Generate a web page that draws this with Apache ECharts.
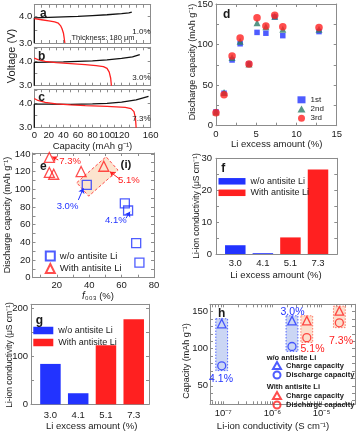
<!DOCTYPE html>
<html><head><meta charset="utf-8">
<script src="https://cdn.jsdelivr.net/npm/echarts@6/dist/echarts.min.js"></script>
<style>html,body{margin:0;padding:0;background:#fff}#c{width:358px;height:435px}</style>
</head><body><div id="c"></div>
<script>
// ================= DATA =================
// a-c : voltage profiles, [capacity (mAh/g), voltage (V)]
const chargeA    = [[0,3.0],[0,3.95],[10,3.96],[20,3.97],[40,3.99],[60,4.01],[80,4.04],[100,4.07],[120,4.11],[130,4.14],[134,4.17]];
const dischargeA = [[0,3.92],[10,3.88],[20,3.84],[28,3.8],[33,3.75],[36,3.66],[38,3.55],[40,3.38],[41,3.2],[42,3.0]];
const chargeB    = [[0,3.0],[0,3.94],[20,3.95],[40,3.96],[60,3.98],[80,4.0],[100,4.04],[120,4.1],[135,4.16],[145,4.25]];
const dischargeB = [[0,4.11],[5,4.05],[15,3.98],[30,3.93],[50,3.89],[70,3.85],[85,3.81],[95,3.77],[100,3.7],[103,3.55],[105,3.3],[106,3.0]];
const chargeC    = [[0,3.0],[0,3.95],[20,3.95],[50,3.94],[80,3.96],[100,3.98],[120,4.03],[140,4.12],[157,4.26]];
const dischargeC = [[0,4.18],[5,4.1],[15,4.02],[30,3.96],[50,3.92],[70,3.89],[100,3.86],[125,3.82],[133,3.77],[137,3.65],[139,3.4],[140,3.0]];
const profileLabels = ['1.0%','3.0%','7.3%'];
const capTickLabels = [0,20,40,60,80,100,120,140,160];

// d : discharge capacity vs Li excess
const liExcess = [0,1,2,3,4.1,5.1,6.2,7.3,8.3,12.8];
const cap1st   = [17,40,81,101,76,115,114,134,111,116];
const cap2nd   = [17,41,84,104,76,127,122,135,119,119];
const cap3rd   = [16,38,86,108,76,133,123,136,122,121];
const cycleNames = ['1st','2nd','3rd'];

// e : discharge capacity vs f003
const f003Without = [38.5,62,64,69,71];
const capWithout  = [105,84,76,39,17];
const f003With    = [15.4,15.4,18.1,35,49];
const capWith     = [136,119,117,120,126];
const eBox = [[32.3,107.4],[50.4,136.8],[57.8,121.6],[39.7,92.2]];   // dashed region (i)
const eArrowsRed  = [[[20.9,133.1],[17.2,136.8]],[[59,111.3],[52.8,119.9]]];
const eArrowsBlue = [[[33.3,87.9],[36.4,101.1]],[[62.7,67.2],[65.2,74.6]]];

// f, g : Li-ion conductivity bars
const barCats = ['3.0','4.1','5.1','7.3'];
const condF = [2.75,0.25,5.2,26.5];
const condG = [84,23,123,177];

// h : capacity vs conductivity
const hLabels    = ['4.1%','3.0%','5.1%','7.3%'];
const hCond      = [9.3e-8,2.5e-6,5.0e-6,2.3e-5];   // S/cm
const hCharge    = [134,138,138,151];
const hDischarge = [77,103,115,135];
const hYTickLabels = [50,100,150];

// ================= STYLE / LAYOUT =================
const FONT = '"Liberation Sans", Arial, Helvetica, sans-serif';
const AXC = '#8c8c8c', TC = '#1a1a1a';
const BLUE = '#2233ff', RED = '#ff2020', GREEN = '#2c7c68', BLACK = '#111111';

const G = {
  a:{left:34.3, top:4.7,  width:116.4, height:38.3},
  b:{left:34.3, top:47.3, width:116.4, height:38.4},
  c:{left:34.3, top:89.3, width:116.4, height:38.4},
  d:{left:216,  top:4,    width:120.7, height:121.7},
  e:{left:32.5, top:153,  width:121.5, height:124.7},
  f:{left:216,  top:158.3,width:121.3, height:95.7},
  g:{left:31,   top:304.3,width:118,   height:100},
  h:{left:210,  top:304.3,width:145,   height:100}
};

const grids=[], xAxis=[], yAxis=[], series=[], legend=[], graphic=[];
function range(a,b,s){const r=[];for(let v=a;v<=b+1e-9;v+=s)r.push(+v.toFixed(6));return r;}

function axis(gi,pos,o,showLabel){
  const hasTicks = Array.isArray(o.ticks);
  return {
    type:'value', gridIndex:gi, position:pos, min:o.min, max:o.max,
    axisLine:{show:true,onZero:false,lineStyle:{color:AXC,width:1}},
    axisTick:hasTicks?{show:true,inside:true,length:3,lineStyle:{color:AXC,width:1},customValues:o.ticks}:{show:false},
    axisLabel:{show:!!(showLabel&&o.labels), customValues:o.labels||undefined, formatter:o.fmt,
      margin:(o.margin!==undefined?o.margin:3), fontSize:o.fs||9.5, color:TC, fontFamily:FONT,
      hideOverlap:false, showMinLabel:true, showMaxLabel:true},
    splitLine:{show:false}, splitArea:{show:false}
  };
}
function panel(rect,xo,yo,showX){
  const gi=grids.length;
  grids.push(Object.assign({show:false,containLabel:false,outerBoundsMode:'none'},rect));
  const xi=xAxis.length, yi=yAxis.length;
  xAxis.push(axis(gi,'bottom',xo,showX!==false), axis(gi,'top',xo,false));
  yAxis.push(axis(gi,'left',yo,true), axis(gi,'right',yo,false));
  return {x:xi,y:yi};
}
function line(p,data,color){
  series.push({type:'line',xAxisIndex:p.x,yAxisIndex:p.y,data,showSymbol:false,symbol:'none',
    lineStyle:{color,width:1.3},itemStyle:{color},clip:true,z:3,silent:true});
}
function scatter(p,name,data,symbol,size,color,hollow){
  series.push({type:'scatter',name,xAxisIndex:p.x,yAxisIndex:p.y,data,symbol,symbolSize:size,
    itemStyle:hollow?{color:'rgba(255,255,255,0)',borderColor:color,borderWidth:1.3}:{color},z:5,silent:true});
}
function bars(p,name,vals,idxs,color){
  series.push({type:'bar',name,xAxisIndex:p.x,yAxisIndex:p.y,data:idxs.map(i=>[i,vals[i]]),
    barWidth:20.5,barGap:'-100%',itemStyle:{color},z:3,silent:true});
}
function arrows(p,list,color){
  series.push({type:'lines',coordinateSystem:'cartesian2d',xAxisIndex:p.x,yAxisIndex:p.y,
    symbol:['none','arrow'],symbolSize:5,lineStyle:{color,width:1,opacity:1,curveness:0},
    data:list.map(c=>({coords:c})),z:6,silent:true});
}
const LN = {eWo:'w/o antisite Li',eW:'With antisite Li',fWo:'w/o antisite Li',fW:'With antisite Li',
  gWo:'w/o antisite Li',gW:'With antisite Li',hWoC:'Charge capacity',hWoD:'Discharge capacity',
  hWC:'Charge capacity',hWD:'Discharge capacity'};
function leg(names,left,top,o){
  legend.push({data:names,orient:'vertical',left,top,padding:0,itemWidth:o.w,itemHeight:o.h,itemGap:o.gap,
    selectedMode:false,formatter:n=>LN[n]||n,icon:o.icon,
    textStyle:{fontSize:o.fs,fontFamily:FONT,color:TC,fontWeight:o.bold?'bold':'normal',lineHeight:o.lh}});
}
function T(text,x,y,o){
  o=o||{};
  const al=o.align||'center';
  const el={type:'text',x,y,rotation:o.rot||0,z:o.z||100,silent:true,
    style:{text,fill:o.color||TC,fontSize:o.fs||9,fontFamily:FONT,fontWeight:o.bold?'bold':'normal',
      fontStyle:'normal',align:al,textAlign:al,verticalAlign:'middle',textVerticalAlign:'middle',rich:o.rich}};
  if(o.zlevel) el.zlevel=o.zlevel;
  graphic.push(el);
}
const SUP = {'-':'\u207B','0':'\u2070','1':'\u00B9','2':'\u00B2','3':'\u00B3','4':'\u2074','5':'\u2075','6':'\u2076','7':'\u2077','8':'\u2078','9':'\u2079'};
const sup = s=>String(s).split('').map(c=>SUP[c]||c).join('');
const fmt1 = v=>Number(v).toFixed(1);

// ----- a, b, c -----
const capX = {min:0,max:160,ticks:range(0,160,10),labels:capTickLabels,margin:3};
const pA = panel(G.a,capX,{min:3,max:4.45,ticks:[3,3.5,4],labels:[3,4],fmt:fmt1,margin:2},false);
const pB = panel(G.b,capX,{min:3,max:4.55,ticks:[3,3.5,4,4.5],labels:[3,4],fmt:fmt1,margin:2},false);
const pC = panel(G.c,capX,{min:3,max:4.55,ticks:[3,3.5,4,4.5],labels:[3,4],fmt:fmt1,margin:2},true);
line(pA,chargeA,BLACK); line(pA,dischargeA,RED);
line(pB,chargeB,BLACK); line(pB,dischargeB,RED);
line(pC,chargeC,BLACK); line(pC,dischargeC,RED);

// ----- d -----
const pD = panel(G.d,{min:0,max:15,ticks:range(0,15,2.5),labels:[0,5,10,15],margin:4},
  {min:0,max:150,ticks:range(0,150,25),labels:[0,50,100,150],margin:3});
scatter(pD,'1st',liExcess.map((x,i)=>[x,cap1st[i]]),'rect',5.5,BLUE,false);
scatter(pD,'2nd',liExcess.map((x,i)=>[x,cap2nd[i]]),'triangle',7,GREEN,false);
scatter(pD,'3rd',liExcess.map((x,i)=>[x,cap3rd[i]]),'circle',7.5,RED,false);
leg(cycleNames,297.5,95.8,{w:8,h:7,gap:1.2,fs:8,lh:7});

// ----- e -----
const pE = panel(G.e,{min:5,max:80,ticks:range(10,80,10),labels:[20,40,60,80],margin:3},
  {min:0,max:141,ticks:range(0,140,10),labels:range(0,140,20),margin:2});
series.push({type:'custom',xAxisIndex:pE.x,yAxisIndex:pE.y,data:[[45,115]],silent:true,z:1,
  renderItem:(params,api)=>({type:'polygon',shape:{points:eBox.map(p=>api.coord(p))},
    style:{fill:'rgba(250,205,165,0.55)',stroke:'#ff4a4a',lineWidth:1,lineDash:[3,2]}})});
scatter(pE,'eWo',f003Without.map((x,i)=>[x,capWithout[i]]),'rect',9,BLUE,true);
scatter(pE,'eW',f003With.map((x,i)=>[x,capWith[i]]),'triangle',10,RED,true);
arrows(pE,eArrowsRed,RED); arrows(pE,eArrowsBlue,BLUE);
leg(['eWo','eW'],44.8,250.5,{w:9,h:9,gap:1.5,fs:9.5,lh:9});

// ----- f -----
const pF = panel(G.f,{min:-0.7,max:3.7,labels:[0,1,2,3],fmt:v=>barCats[v],margin:4},
  {min:0,max:30,ticks:range(0,30,5),labels:[0,10,20,30],margin:4});
bars(pF,'fWo',condF,[0,1],BLUE); bars(pF,'fW',condF,[2,3],RED);
leg(['fWo','fW'],218.5,176.8,{w:27,h:6.5,gap:2.5,fs:9,lh:6.5,icon:'rect'});

// ----- g -----
const pG = panel(G.g,{min:-0.7,max:3.55,labels:[0,1,2,3],fmt:v=>barCats[v],margin:6},
  {min:0,max:208,ticks:range(0,200,50),labels:[0,100,200],margin:3});
bars(pG,'gWo',condG,[0,1],BLUE); bars(pG,'gW',condG,[2,3],RED);
leg(['gWo','gW'],33.3,326,{w:20,h:7.5,gap:3,fs:9,lh:7.5,icon:'rect'});

// ----- h -----
const hYMin=25, hYMax=160;
const logTicks=[]; for(let n=-8;n<=-5;n++) for(let k=1;k<=9;k++){const v=Math.log10(k)+n; if(v>=-7.27&&v<=-4.32) logTicks.push(+v.toFixed(5));}
const pH = panel(G.h,{min:-7.27,max:-4.32,ticks:logTicks,labels:[-7,-6,-5],fmt:v=>'10'+sup(Math.round(v)),margin:4},
  {min:hYMin,max:hYMax,ticks:range(30,160,10),labels:null,margin:2});
function hRect(idxs,fill,stroke){
  series.push({type:'custom',xAxisIndex:pH.x,yAxisIndex:pH.y,silent:true,z:1,
    data:idxs.map(i=>[Math.log10(hCond[i]),hCharge[i],hDischarge[i]]),
    renderItem:(params,api)=>{const x=api.value(0),c=api.value(1),d=api.value(2);
      const p1=api.coord([x-0.12,c+6.5]), p2=api.coord([x+0.12,d-6.5]);
      return {type:'rect',shape:{x:p1[0],y:p1[1],width:p2[0]-p1[0],height:p2[1]-p1[1]},
        style:{fill,stroke,lineWidth:1,lineDash:[1.5,1.5]}};}});
}
hRect([0,1],'rgba(160,180,235,0.55)','#5566ff');
hRect([2,3],'rgba(250,200,170,0.6)','#ff7a6a');
scatter(pH,'hWoC',[0,1].map(i=>[Math.log10(hCond[i]),hCharge[i]]),'triangle',8.5,BLUE,true);
scatter(pH,'hWoD',[0,1].map(i=>[Math.log10(hCond[i]),hDischarge[i]]),'circle',8,BLUE,true);
scatter(pH,'hWC',[2,3].map(i=>[Math.log10(hCond[i]),hCharge[i]]),'triangle',8.5,RED,true);
scatter(pH,'hWD',[2,3].map(i=>[Math.log10(hCond[i]),hDischarge[i]]),'circle',8,RED,true);
leg(['hWoC','hWoD'],272,361,{w:8,h:7,gap:0.5,fs:7.5,lh:7,bold:true});
leg(['hWC','hWD'],272,391,{w:8,h:7,gap:0.5,fs:7.5,lh:7,bold:true});

// ================= TEXT =================
const gm = ' (mAh g'+sup('-1')+')';
T('a',43.3,14,{fs:12,bold:true}); T('b',41.7,56.7,{fs:12,bold:true}); T('c',41.7,97.3,{fs:12,bold:true});
T('Thickness: 180 \u03BCm',71.5,38.3,{fs:7.5,align:'left'});
T(profileLabels[0],150.5,32,{fs:8,align:'right'});
T(profileLabels[1],150.5,77.3,{fs:8,align:'right'});
T(profileLabels[2],150.5,118.3,{fs:8,align:'right'});
T('Voltage (V)',12,56,{fs:11,rot:Math.PI/2});
T('Capacity'+gm,92.5,146,{fs:9.5});

T('d',226.7,15,{fs:12,bold:true});
T('Discharge capacity'+gm,193,62,{fs:9,rot:Math.PI/2});
T('Li excess amount (%)',276.7,144.3,{fs:9.5});

T('e',43.3,166.7,{fs:12,bold:true});
T('(i)',126,165,{fs:11.5,bold:true});
T('7.3%',59.3,161,{fs:9.5,color:RED,align:'left'});
T('5.1%',118,180.5,{fs:9.5,color:RED,align:'left'});
T('3.0%',56.7,206.7,{fs:9.5,color:BLUE,align:'left'});
T('4.1%',105,220.7,{fs:9.5,color:BLUE,align:'left'});
T('Discharge capacity'+gm,8,215,{fs:9,rot:Math.PI/2});
T('{i|f}\u2080\u2080\u2083 (%)',98,296,{fs:9.5,rich:{i:{fontStyle:'italic',fontSize:10,fontFamily:FONT,fill:TC,color:TC}}});

T('f',223.3,168.3,{fs:12,bold:true});
T('Li-ion conductivity (\u03BCS cm'+sup('-1')+')',197,206,{fs:8.5,rot:Math.PI/2});
T('Li excess amount (%)',276,275.7,{fs:9.5});

T('g',39.3,320.5,{fs:12,bold:true});
T('Li-ion conductivity (\u03BCS cm'+sup('-1')+')',10,355,{fs:8.5,rot:Math.PI/2});
T('Li excess amount (%)',91.7,426,{fs:9.5});

T('h',221.7,313.3,{fs:12,bold:true});
T(hLabels[0],221,379,{fs:10.5,color:BLUE});
T(hLabels[1],292.5,312.5,{fs:10.5,color:BLUE});
T(hLabels[2],312.5,349.5,{fs:10.5,color:RED});
T(hLabels[3],341,341,{fs:10.5,color:RED});
T('w/o antisite Li',266.7,358.3,{fs:7.5,bold:true,align:'left'});
T('With antisite Li',266.7,387.3,{fs:7.5,bold:true,align:'left'});
T('Capacity'+gm,186.5,361,{fs:9,rot:Math.PI/2});
T('Li-ion conductivity (S cm'+sup('-1')+')',273,426,{fs:9.5});

const chart = echarts.init(document.getElementById('c'),null,{renderer:'canvas',width:358,height:435});
chart.setOption({animation:false,backgroundColor:'#ffffff',textStyle:{fontFamily:FONT},
  grid:grids,xAxis,yAxis,series,legend,graphic});

// h y-axis tick labels, positioned through the h axis scale
hYTickLabels.forEach(v=>{
  let py;
  try { py = chart.convertToPixel({yAxisIndex:pH.y}, v); } catch(e) { py = undefined; }
  if (typeof py !== 'number' || !isFinite(py)) py = G.h.top + G.h.height*(1-(v-hYMin)/(hYMax-hYMin));
  T(String(v), G.h.left-2, py, {fs:9.5,align:'right',z:200,zlevel:1});
});
chart.setOption({graphic});
</script></body></html>
